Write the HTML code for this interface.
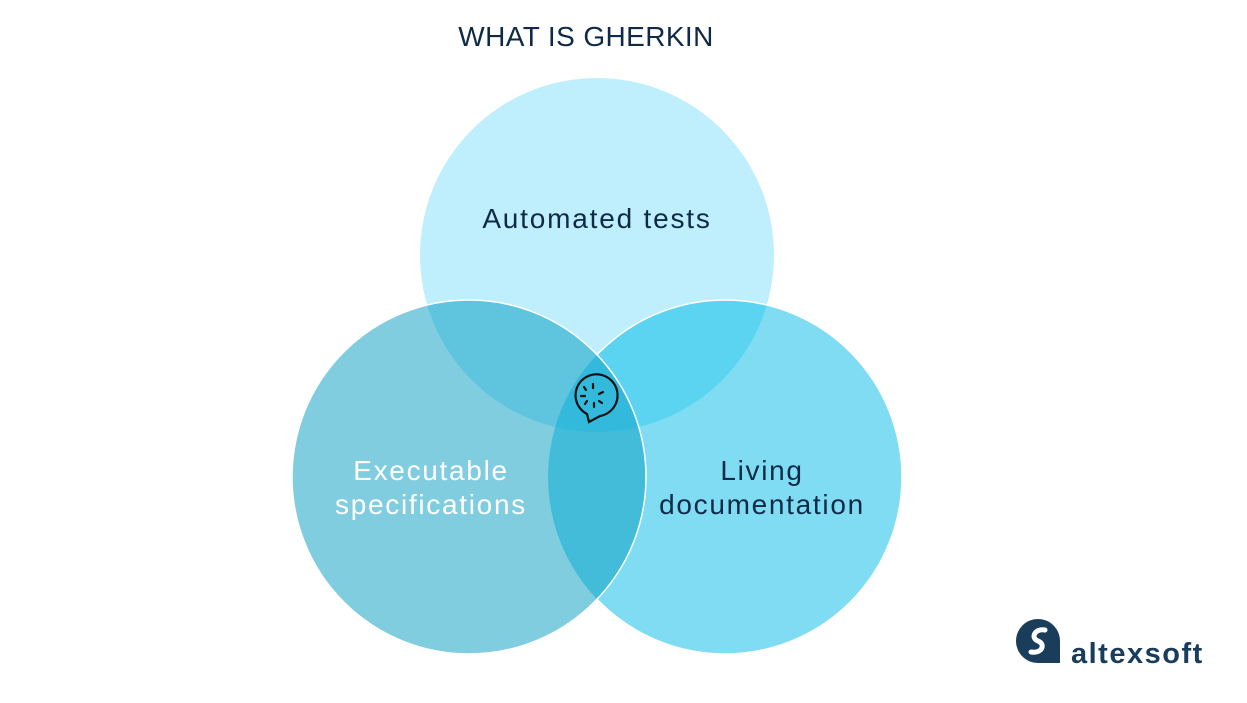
<!DOCTYPE html>
<html><head><meta charset="utf-8"><style>
html,body{margin:0;padding:0;background:#fff;}
svg{display:block}
text{font-family:"Liberation Sans",sans-serif;}
</style></head><body>
<svg width="1247" height="703" viewBox="0 0 1247 703" xmlns="http://www.w3.org/2000/svg">
<defs>
<clipPath id="cT"><circle cx="597" cy="255" r="177"/></clipPath>
<clipPath id="cL"><circle cx="469" cy="477" r="177"/></clipPath>
<mask id="notL"><rect width="1247" height="703" fill="#fff"/><circle cx="469" cy="477" r="177" fill="#000"/></mask>
</defs>
<text x="586" y="46" text-anchor="middle" font-size="28" fill="#0e2a47" letter-spacing="0.4">WHAT IS GHERKIN</text>
<circle cx="597" cy="255" r="177" fill="#bfeefc"/>
<circle cx="469" cy="477" r="177" fill="#80cde0"/>
<circle cx="725" cy="477" r="177" fill="#80dcf2"/>
<g clip-path="url(#cT)">
<circle cx="469" cy="477" r="177" fill="#5fc4dd"/>
<circle cx="725" cy="477" r="177" fill="#5bd4f1"/>
</g>
<g clip-path="url(#cL)">
<circle cx="725" cy="477" r="177" fill="#42bcd9"/>
<g clip-path="url(#cT)"><circle cx="725" cy="477" r="177" fill="#33b9dc"/></g>
</g>
<circle cx="725" cy="477" r="177" fill="none" stroke="#fff" stroke-width="1.5" mask="url(#notL)"/>
<circle cx="469" cy="477" r="177" fill="none" stroke="#fff" stroke-width="1.5"/>
<text x="597" y="228" text-anchor="middle" font-size="28" fill="#0e2a47" letter-spacing="1.8">Automated tests</text>
<text x="431" y="480" text-anchor="middle" font-size="28" fill="#fff" letter-spacing="1.7">Executable</text>
<text x="431" y="514" text-anchor="middle" font-size="28" fill="#fff" letter-spacing="1.7">specifications</text>
<text x="762" y="480" text-anchor="middle" font-size="28" fill="#0e2a47" letter-spacing="1.7">Living</text>
<text x="762" y="514" text-anchor="middle" font-size="28" fill="#0e2a47" letter-spacing="1.7">documentation</text>
<g stroke="#111" stroke-width="2.2" fill="none" stroke-linecap="round" transform="translate(-4,0)">
<path d="M591 414 A21 21 0 1 1 604 416 L593 422 Z"/>
<line x1="597" y1="384" x2="597" y2="388"/>
<line x1="588" y1="387" x2="590" y2="390"/>
<line x1="585" y1="396" x2="589" y2="396"/>
<line x1="589" y1="404" x2="591" y2="401"/>
<line x1="598" y1="407" x2="598" y2="403"/>
<line x1="606" y1="403" x2="603" y2="401"/>
<line x1="607" y1="392" x2="603" y2="394"/>
</g>
<path d="M1038 663 A22 22 0 1 1 1060 641 L1060 663 Z" fill="#1a3d5c"/>
<path d="M1045 630 C1035 628 1030 638 1038 641 C1046 644 1042 654 1031 652" stroke="#fff" stroke-width="5" fill="none" stroke-linecap="round"/>
<text x="1071" y="663" font-size="29" font-weight="bold" fill="#1a3d5c" letter-spacing="1.5">altexsoft</text>
</svg>
</body></html>
